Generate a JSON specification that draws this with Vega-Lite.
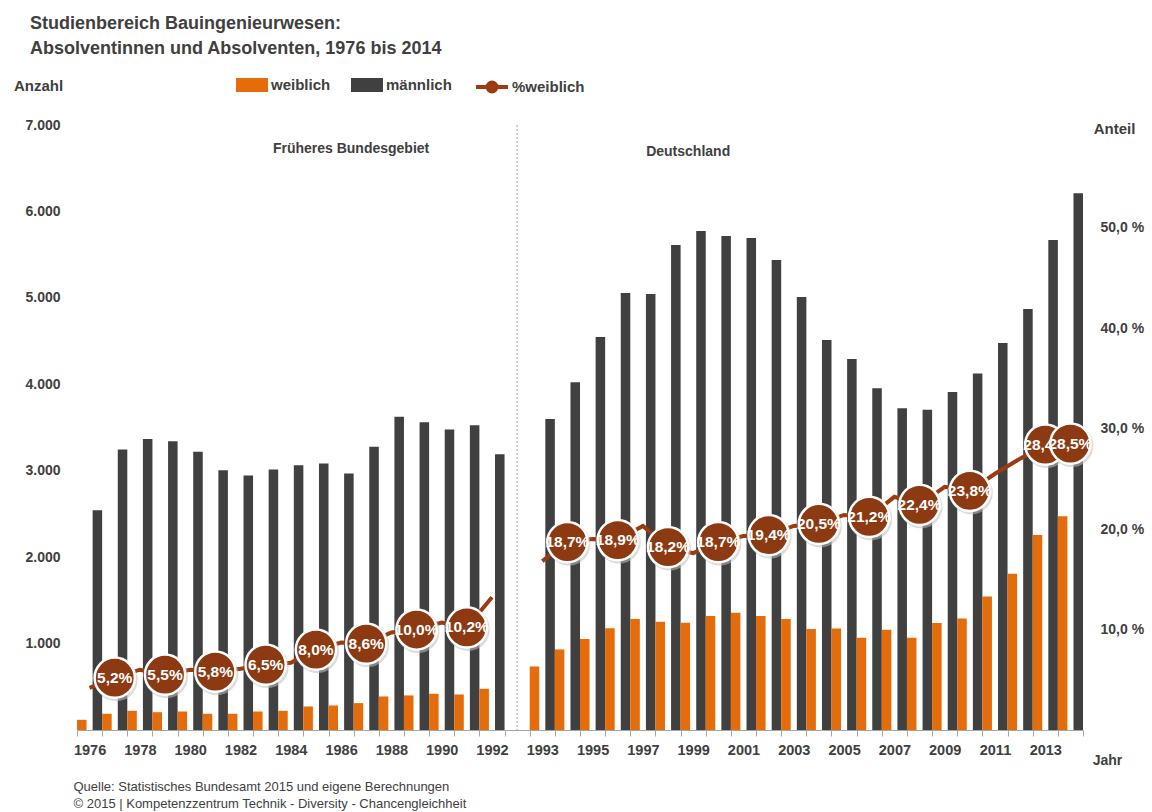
{
  "$schema": "https://vega.github.io/schema/vega-lite/v6.json",
  "width": 1006,
  "height": 605,
  "autosize": "none",
  "padding": {"left": 77, "top": 125, "right": 69, "bottom": 82},
  "background": "white",
  "config": {
    "font": "Liberation Sans",
    "view": {"stroke": null},
    "axis": {"labelColor": "#404040", "labelFontWeight": "bold", "labelFontSize": 14, "titleColor": "#404040", "titleFontWeight": "bold", "titleFontSize": 15, "grid": false},
    "legend": {"padding": 0, "labelColor": "#404040", "labelFontSize": 15, "labelFontWeight": "bold"}
  },
  "title": {
    "text": ["Studienbereich Bauingenieurwesen:", "Absolventinnen und Absolventen, 1976 bis 2014"],
    "anchor": "start",
    "frame": "group",
    "fontSize": 18,
    "fontWeight": "bold",
    "color": "#404040",
    "lineHeight": 25,
    "dx": -47,
    "dy": -11,
    "offset": 0
  },
  "datasets": {
    "d": [
      {"year": "1976", "period": "A", "weiblich": 118, "männlich": 2543, "pct": 4.2, "label": ""},
      {"year": "1977", "period": "A", "weiblich": 188, "männlich": 3246, "pct": 5.2, "label": "5,2%"},
      {"year": "1978", "period": "A", "weiblich": 222, "männlich": 3368, "pct": 6.0, "label": ""},
      {"year": "1979", "period": "A", "weiblich": 206, "männlich": 3342, "pct": 5.5, "label": "5,5%"},
      {"year": "1980", "period": "A", "weiblich": 214, "männlich": 3218, "pct": 6.0, "label": ""},
      {"year": "1981", "period": "A", "weiblich": 188, "männlich": 3006, "pct": 5.8, "label": "5,8%"},
      {"year": "1982", "period": "A", "weiblich": 188, "männlich": 2944, "pct": 6.1, "label": ""},
      {"year": "1983", "period": "A", "weiblich": 214, "männlich": 3014, "pct": 6.5, "label": "6,5%"},
      {"year": "1984", "period": "A", "weiblich": 222, "männlich": 3064, "pct": 6.7, "label": ""},
      {"year": "1985", "period": "A", "weiblich": 272, "männlich": 3084, "pct": 8.0, "label": "8,0%"},
      {"year": "1986", "period": "A", "weiblich": 284, "männlich": 2968, "pct": 8.7, "label": ""},
      {"year": "1987", "period": "A", "weiblich": 311, "männlich": 3276, "pct": 8.6, "label": "8,6%"},
      {"year": "1988", "period": "A", "weiblich": 388, "männlich": 3623, "pct": 9.7, "label": ""},
      {"year": "1989", "period": "A", "weiblich": 400, "männlich": 3562, "pct": 10.0, "label": "10,0%"},
      {"year": "1990", "period": "A", "weiblich": 419, "männlich": 3477, "pct": 10.7, "label": ""},
      {"year": "1991", "period": "A", "weiblich": 411, "männlich": 3527, "pct": 10.2, "label": "10,2%"},
      {"year": "1992", "period": "A", "weiblich": 477, "männlich": 3191, "pct": 13.2, "label": ""},
      {"year": "1993", "period": "B", "weiblich": 735, "männlich": 3597, "pct": 16.8, "label": ""},
      {"year": "1994", "period": "B", "weiblich": 932, "männlich": 4025, "pct": 18.7, "label": "18,7%"},
      {"year": "1995", "period": "B", "weiblich": 1052, "männlich": 4546, "pct": 19.0, "label": ""},
      {"year": "1996", "period": "B", "weiblich": 1176, "männlich": 5056, "pct": 18.9, "label": "18,9%"},
      {"year": "1997", "period": "B", "weiblich": 1283, "männlich": 5044, "pct": 20.3, "label": ""},
      {"year": "1998", "period": "B", "weiblich": 1253, "männlich": 5612, "pct": 18.2, "label": "18,2%"},
      {"year": "1999", "period": "B", "weiblich": 1242, "männlich": 5774, "pct": 17.6, "label": ""},
      {"year": "2000", "period": "B", "weiblich": 1318, "männlich": 5716, "pct": 18.7, "label": "18,7%"},
      {"year": "2001", "period": "B", "weiblich": 1357, "männlich": 5693, "pct": 19.3, "label": ""},
      {"year": "2002", "period": "B", "weiblich": 1318, "männlich": 5438, "pct": 19.4, "label": "19,4%"},
      {"year": "2003", "period": "B", "weiblich": 1283, "männlich": 5010, "pct": 20.3, "label": ""},
      {"year": "2004", "period": "B", "weiblich": 1168, "männlich": 4511, "pct": 20.5, "label": "20,5%"},
      {"year": "2005", "period": "B", "weiblich": 1175, "männlich": 4293, "pct": 21.4, "label": ""},
      {"year": "2006", "period": "B", "weiblich": 1067, "männlich": 3955, "pct": 21.2, "label": "21,2%"},
      {"year": "2007", "period": "B", "weiblich": 1161, "männlich": 3723, "pct": 23.2, "label": ""},
      {"year": "2008", "period": "B", "weiblich": 1067, "männlich": 3706, "pct": 22.4, "label": "22,4%"},
      {"year": "2009", "period": "B", "weiblich": 1238, "männlich": 3911, "pct": 24.2, "label": ""},
      {"year": "2010", "period": "B", "weiblich": 1290, "männlich": 4126, "pct": 23.8, "label": "23,8%"},
      {"year": "2011", "period": "B", "weiblich": 1546, "männlich": 4477, "pct": 25.5, "label": ""},
      {"year": "2012", "period": "B", "weiblich": 1809, "männlich": 4872, "pct": 27.0, "label": ""},
      {"year": "2013", "period": "B", "weiblich": 2255, "männlich": 5670, "pct": 28.4, "label": "28,4%"},
      {"year": "2014", "period": "B", "weiblich": 2474, "männlich": 6211, "pct": 28.5, "label": "28,5%"}
    ]
  },
  "layer": [
    {
      "layer": [
        {
          "data": {"name": "d"},
          "transform": [{"fold": ["weiblich", "männlich"], "as": ["key", "value"]}],
          "mark": {"type": "bar"},
          "encoding": {
            "x": {
              "field": "year", "type": "nominal",
              "scale": {"domain": ["1976","1977","1978","1979","1980","1981","1982","1983","1984","1985","1986","1987","1988","1989","1990","1991","1992","gap","1993","1994","1995","1996","1997","1998","1999","2000","2001","2002","2003","2004","2005","2006","2007","2008","2009","2010","2011","2012","2013","2014"], "paddingInner": 0, "paddingOuter": 0},
              "axis": {
                "orient": "bottom",
                "title": "Jahr", "titleX": 1030, "titleY": 30, "titleAlign": "center", "titleBaseline": "middle", "titleFontSize": 14,
                "labelExpr": "datum.value == 'gap' ? '' : ((toNumber(datum.value) <= 1992 ? toNumber(datum.value) % 2 == 0 : toNumber(datum.value) % 2 == 1) ? datum.value : '')",
                "labelAngle": 0, "labelOverlap": false, "tickBand": "extent", "domainColor": "#A6A6A6", "tickColor": "#A6A6A6", "tickSize": 6, "labelPadding": 7, "labelFontSize": 14.5
              }
            },
            "xOffset": {"field": "key", "type": "nominal", "scale": {"domain": ["weiblich", "männlich"], "paddingInner": 0.39, "paddingOuter": 0}},
            "y": {
              "field": "value", "type": "quantitative",
              "scale": {"domain": [0, 7000], "nice": false},
              "axis": {
                "orient": "left", "values": [1000, 2000, 3000, 4000, 5000, 6000, 7000],
                "labelExpr": "replace(format(datum.value, ','), ',', '.')",
                "domain": false, "ticks": false, "labelPadding": 17,
                "title": "Anzahl", "titleAngle": 0, "titleX": -39, "titleY": -40, "titleAlign": "center", "titleBaseline": "middle"
              }
            },
            "color": {
              "field": "key", "type": "nominal",
              "scale": {"domain": ["weiblich", "männlich"], "range": ["#E46C0A", "#404040"]},
              "legend": {
                "orient": "none", "legendX": 159, "legendY": -56, "direction": "horizontal", "title": null,
                "symbolType": "M-1,-0.4375H1V0.4375H-1Z", "symbolSize": 1024, "symbolStrokeWidth": 0,
                "labelOffset": 3, "columnPadding": 20
              }
            }
          }
        },
        {
          "data": {"values": [{"year": "gap"}]},
          "mark": {"type": "rule", "stroke": "#A6A6A6", "strokeDash": [2, 2], "strokeWidth": 1},
          "encoding": {
            "x": {"field": "year", "type": "nominal", "bandPosition": 0.5, "scale": {"domain": ["1976","1977","1978","1979","1980","1981","1982","1983","1984","1985","1986","1987","1988","1989","1990","1991","1992","gap","1993","1994","1995","1996","1997","1998","1999","2000","2001","2002","2003","2004","2005","2006","2007","2008","2009","2010","2011","2012","2013","2014"], "paddingInner": 0, "paddingOuter": 0}}
          }
        },
        {
          "data": {"values": [{"year": "1986", "text": "Früheres Bundesgebiet"}]},
          "mark": {"type": "text", "fontSize": 14, "fontWeight": "bold", "color": "#404040", "dx": 10, "baseline": "middle"},
          "encoding": {
            "x": {"field": "year", "type": "nominal", "scale": {"domain": ["1976","1977","1978","1979","1980","1981","1982","1983","1984","1985","1986","1987","1988","1989","1990","1991","1992","gap","1993","1994","1995","1996","1997","1998","1999","2000","2001","2002","2003","2004","2005","2006","2007","2008","2009","2010","2011","2012","2013","2014"], "paddingInner": 0, "paddingOuter": 0}},
            "y": {"datum": 6720, "type": "quantitative"},
            "text": {"field": "text"}
          }
        },
        {
          "data": {"values": [{"year": "1999", "text": "Deutschland"}]},
          "mark": {"type": "text", "fontSize": 14, "fontWeight": "bold", "color": "#404040", "dx": -5, "baseline": "middle"},
          "encoding": {
            "x": {"field": "year", "type": "nominal", "scale": {"domain": ["1976","1977","1978","1979","1980","1981","1982","1983","1984","1985","1986","1987","1988","1989","1990","1991","1992","gap","1993","1994","1995","1996","1997","1998","1999","2000","2001","2002","2003","2004","2005","2006","2007","2008","2009","2010","2011","2012","2013","2014"], "paddingInner": 0, "paddingOuter": 0}},
            "y": {"datum": 6690, "type": "quantitative"},
            "text": {"field": "text"}
          }
        }
      ]
    },
    {
      "data": {"name": "d"},
      "encoding": {
        "x": {
          "field": "year", "type": "nominal",
          "scale": {"domain": ["1976","1977","1978","1979","1980","1981","1982","1983","1984","1985","1986","1987","1988","1989","1990","1991","1992","gap","1993","1994","1995","1996","1997","1998","1999","2000","2001","2002","2003","2004","2005","2006","2007","2008","2009","2010","2011","2012","2013","2014"], "paddingInner": 0, "paddingOuter": 0},
          "axis": {
            "orient": "bottom",
            "title": ["Quelle: Statistisches Bundesamt 2015 und eigene Berechnungen", "© 2015 | Kompetenzzentrum Technik - Diversity - Chancengleichheit"],
            "labels": false, "ticks": false, "domain": false,
            "titleX": -4, "titleY": 50, "titleAlign": "left", "titleBaseline": "top", "titleAnchor": "start",
            "titleFontSize": 13, "titleFontWeight": "normal", "titleLineHeight": 17
          }
        },
        "y": {
          "field": "pct", "type": "quantitative",
          "scale": {"domain": [0, 60.2], "nice": false},
          "axis": {
            "orient": "right", "values": [10, 20, 30, 40, 50],
            "labelExpr": "replace(format(datum.value, '.1f'), '.', ',') + ' %'",
            "domain": false, "ticks": false, "labelPadding": 17,
            "title": "Anteil", "titleAngle": 0, "titleX": 31, "titleY": 3, "titleAlign": "center", "titleBaseline": "middle"
          }
        }
      },
      "layer": [
        {
          "mark": {"type": "line", "strokeWidth": 4},
          "encoding": {
            "detail": {"field": "period"},
            "stroke": {
              "datum": "%weiblich", "type": "nominal",
              "scale": {"domain": ["%weiblich"], "range": ["#9A3B12"]},
              "legend": {
                "orient": "none", "legendX": 397, "legendY": -56, "direction": "horizontal", "title": null,
                "symbolType": "M-1,0H-0.3M0.3,0H1M0.28,0A0.28,0.28 0 1,1 -0.28,0A0.28,0.28 0 1,1 0.28,0Z",
                "symbolSize": 1024, "symbolStrokeWidth": 4, "symbolFillColor": "#9A3B12", "labelOffset": 2
              }
            }
          }
        },
        {
          "transform": [{"filter": "datum.label != ''"}],
          "mark": {"type": "point", "shape": "circle", "filled": true, "size": 1850, "fill": "#BFBFBF", "fillOpacity": 0.55, "strokeWidth": 0, "xOffset": 1.5, "yOffset": 2}
        },
        {
          "transform": [{"filter": "datum.label != '' && datum.year != '2014'"}],
          "mark": {"type": "point", "shape": "circle", "filled": true, "size": 1620, "fill": "#8D3A12", "fillOpacity": 1, "stroke": "#FFFFFF", "strokeWidth": 2.5, "opacity": 1}
        },
        {
          "transform": [{"filter": "datum.label != '' && datum.year != '2014'"}],
          "mark": {"type": "text", "fontSize": 15.5, "fontWeight": "bold", "color": "#FFFFFF", "baseline": "middle", "align": "center"},
          "encoding": {"text": {"field": "label"}}
        },
        {
          "transform": [{"filter": "datum.year == '2014'"}],
          "mark": {"type": "point", "shape": "circle", "filled": true, "size": 1620, "fill": "#8D3A12", "fillOpacity": 1, "stroke": "#FFFFFF", "strokeWidth": 2.5, "opacity": 1}
        },
        {
          "transform": [{"filter": "datum.year == '2014'"}],
          "mark": {"type": "text", "fontSize": 15.5, "fontWeight": "bold", "color": "#FFFFFF", "baseline": "middle", "align": "center"},
          "encoding": {"text": {"field": "label"}}
        }
      ]
    }
  ],
  "resolve": {"scale": {"y": "independent"}, "axis": {"x": "independent"}}
}
